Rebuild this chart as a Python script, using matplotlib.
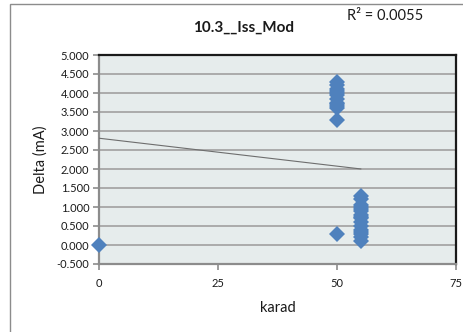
import matplotlib
matplotlib.use("Agg")
import matplotlib.pyplot as plt
from matplotlib.patches import Rectangle
import numpy as np

plt.rcParams['font.family'] = ['Lato', 'DejaVu Sans']

title = "10.3__Iss_Mod"
r2_text = "R\u00b2 = 0.0055"
x_label = "karad"
y_label = "Delta (mA)"

# measurements
karad = [0,
         50, 50, 50, 50, 50, 50, 50, 50, 50, 50, 50, 50, 50,
         55, 55, 55, 55, 55, 55, 55, 55, 55, 55, 55, 55, 55, 55, 55, 55]
delta = [0.0,
         4.30, 4.20, 4.10, 4.05, 4.00, 3.95, 3.85, 3.75, 3.70, 3.65, 3.60, 3.30, 0.30,
         1.30, 1.20, 1.05, 1.00, 0.95, 0.90, 0.80, 0.75, 0.70, 0.60, 0.50, 0.40, 0.35, 0.30, 0.20, 0.10]

# linear trendline coefficients
trend_intercept = 2.81
trend_slope = -0.0147

x_ticks = [0, 25, 50, 75]
y_ticks = [-0.5, 0.0, 0.5, 1.0, 1.5, 2.0, 2.5, 3.0, 3.5, 4.0, 4.5, 5.0]

W, H = 464, 332
fig = plt.figure(figsize=(W / 100, H / 100), dpi=100)
fig.patch.set_facecolor("white")

# chart-area frame
fig.patches.append(Rectangle((10.5 / W, -0.05), 1.2, 1 - 3.5 / H + 0.05,
                             transform=fig.transFigure, fill=False,
                             edgecolor="#8c8c8c", linewidth=1.0))

ax = fig.add_axes([99 / W, 1 - 264 / H, (456 - 99) / W, (264 - 55) / H])
ax.set_facecolor("#e6ecec")

ax.set_xlim(0, 75)
ax.set_ylim(-0.5, 5.0)
ax.set_xticks(x_ticks)
ax.set_yticks(y_ticks)
ax.set_xticklabels([str(t) for t in x_ticks])
ax.set_yticklabels([f"{t:.3f}" for t in y_ticks])

ax.grid(axis="y", color="#a6a6a6", linewidth=1.3)
ax.set_axisbelow(True)

for side in ("left", "bottom"):
    ax.spines[side].set_color("#8c8c8c")
    ax.spines[side].set_linewidth(1.6)
for side in ("top", "right"):
    ax.spines[side].set_color("#1a1a1a")
    ax.spines[side].set_linewidth(1.6)

ax.tick_params(axis="y", direction="out", length=4, width=1.2, color="#8c8c8c",
               labelsize=8, pad=3, labelcolor="#1a1a1a")
ax.tick_params(axis="x", direction="out", length=4, width=1.2, color="#8c8c8c",
               labelsize=8, pad=6, labelcolor="#1a1a1a")

ax.plot(karad, delta, linestyle="none", marker="D", markersize=8,
        color="#4f81bd", markeredgewidth=0, zorder=4, clip_on=False)

tx = np.array([min(karad), max(karad)])
ax.plot(tx, trend_intercept + trend_slope * tx, color="#6e6e6e", linewidth=0.8, zorder=3)

ax.set_xlabel(x_label, fontsize=10.5, labelpad=9, color="#1a1a1a")
ax.set_ylabel(y_label, fontsize=10.5, labelpad=6, color="#1a1a1a")

fig.text(244 / W, 1 - 28 / H, title, ha="center", va="center",
         fontsize=11, fontweight="bold", color="#1a1a1a")
fig.text(347 / W, 1 - 16 / H, r2_text, ha="left", va="center",
         fontsize=10.5, color="#1a1a1a")

fig.savefig("out.png", dpi=100)
